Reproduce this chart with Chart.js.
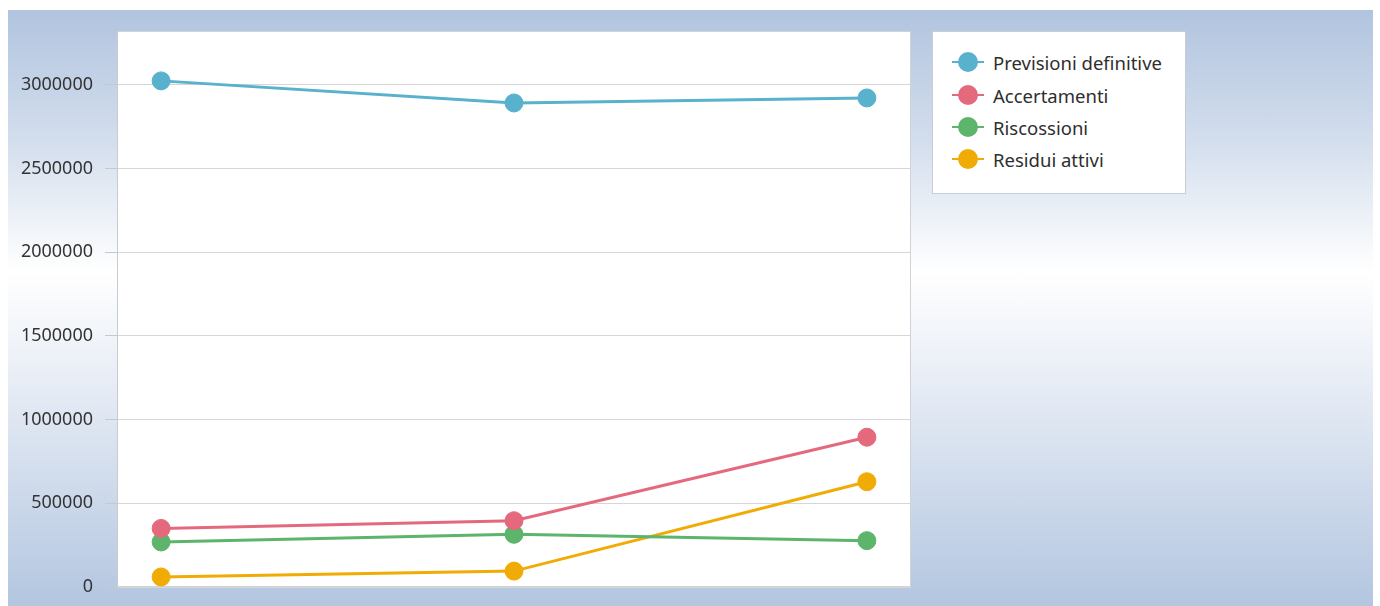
<!DOCTYPE html>
<html>
<head>
<meta charset="utf-8">
<script src="https://cdn.jsdelivr.net/npm/chart.js@4.4.0/dist/chart.umd.min.js"></script>
<style>
  html, body { margin: 0; padding: 0; background: #ffffff; width: 1380px; height: 606px; overflow: hidden; }
  #bg { position: absolute; left: 8px; top: 10px; width: 1365px; height: 596px;
        background: linear-gradient(to bottom, #b1c4df 0%, #d3deed 22%, #ffffff 44%, #e4eaf4 65%, #b3c6e0 100%); }
  #c { position: absolute; left: 0; top: 0; }
  #legend { position: absolute; left: 924px; top: 21px; width: 254px; height: 163px;
            background: #ffffff; border: 1px solid #c9cdd3; box-sizing: border-box;
            font-family: "Noto Sans", "Open Sans", sans-serif; font-size: 18.5px; color: #2e2e2e; }
  .item { position: absolute; left: 0; height: 24px; display: flex; align-items: center; white-space: nowrap; }
  .mk { position: relative; width: 32px; height: 24px; margin-left: 19px; margin-right: 9px; }
  .mk .ln { position: absolute; left: 0; right: 0; top: 11px; height: 2px; }
  .mk .dot { position: absolute; left: 6px; top: 2px; width: 20px; height: 20px; border-radius: 50%; }
</style>
</head>
<body>
<div id="bg">
  <canvas id="c" width="1365" height="596"></canvas>
  <div id="legend"></div>
</div>
<script>
const categories = ['Esercizio 1', 'Esercizio 2', 'Esercizio 3'];
const seriesNames = ['Previsioni definitive', 'Accertamenti', 'Riscossioni', 'Residui attivi'];
const previsioniDefinitive = [3024000, 2892000, 2922000];
const accertamenti = [350000, 396000, 895000];
const riscossioni = [269000, 315000, 277000];
const residuiAttivi = [60000, 95000, 629000];
const yTicks = [0, 500000, 1000000, 1500000, 2000000, 2500000, 3000000];
const seriesColors = ['#58b1cd', '#e5697d', '#5db46b', '#f1ab05'];

const seriesValues = [previsioniDefinitive, accertamenti, riscossioni, residuiAttivi];

const datasets = seriesValues.map((vals, i) => ({
  label: seriesNames[i],
  data: vals.map((v, k) => ({ x: k, y: v })),
  borderColor: seriesColors[i],
  backgroundColor: seriesColors[i],
  pointBackgroundColor: seriesColors[i],
  pointBorderColor: seriesColors[i],
  borderWidth: 3,
  pointRadius: 9,
  pointBorderWidth: 1,
  tension: 0,
  clip: false
}));

const plotBg = {
  id: 'plotBg',
  beforeDraw(chart) {
    const a = chart.chartArea, ctx = chart.ctx;
    ctx.save();
    ctx.fillStyle = '#ffffff';
    ctx.fillRect(a.left, a.top, a.right - a.left, a.bottom - a.top);
    ctx.strokeStyle = '#cfd3d8';
    ctx.lineWidth = 1;
    ctx.strokeRect(a.left + 0.5, a.top + 0.5, a.right - a.left - 1, a.bottom - a.top - 1);
    ctx.restore();
  }
};

new Chart(document.getElementById('c'), {
  type: 'line',
  data: { datasets },
  plugins: [plotBg],
  options: {
    responsive: false,
    animation: false,
    devicePixelRatio: 1,
    layout: { autoPadding: false, padding: { left: 0, top: 21, right: 462, bottom: 19 } },
    plugins: { legend: { display: false }, tooltip: { enabled: true } },
    scales: {
      x: { type: 'linear', min: -0.125, max: 2.125, display: false },
      y: {
        min: 0, max: 3322000,
        afterFit(s) { s.width = 109; s.paddingTop = 0; s.paddingBottom = 0; },
        afterBuildTicks(s) { s.ticks = yTicks.map(v => ({ value: v })); },
        grid: { color: '#d6d6d6', tickColor: '#c8c8c8', tickLength: 12, lineWidth: 1 },
        border: { display: true, color: '#c8cbd0' },
        ticks: {
          padding: 12,
          color: '#333333',
          font: { family: '"Noto Sans", "Open Sans", sans-serif', size: 18 },
          callback: v => String(v)
        }
      }
    }
  }
});

const legend = document.getElementById('legend');
const rowCenters = [30, 63, 95, 127];
seriesNames.forEach((name, i) => {
  const it = document.createElement('div');
  it.className = 'item';
  it.style.top = (rowCenters[i] - 12) + 'px';
  it.innerHTML = '<div class="mk"><div class="ln" style="background:' + seriesColors[i] + '"></div>' +
    '<div class="dot" style="background:' + seriesColors[i] + '"></div></div><span>' + name + '</span>';
  legend.appendChild(it);
});
</script>
</body>
</html>
